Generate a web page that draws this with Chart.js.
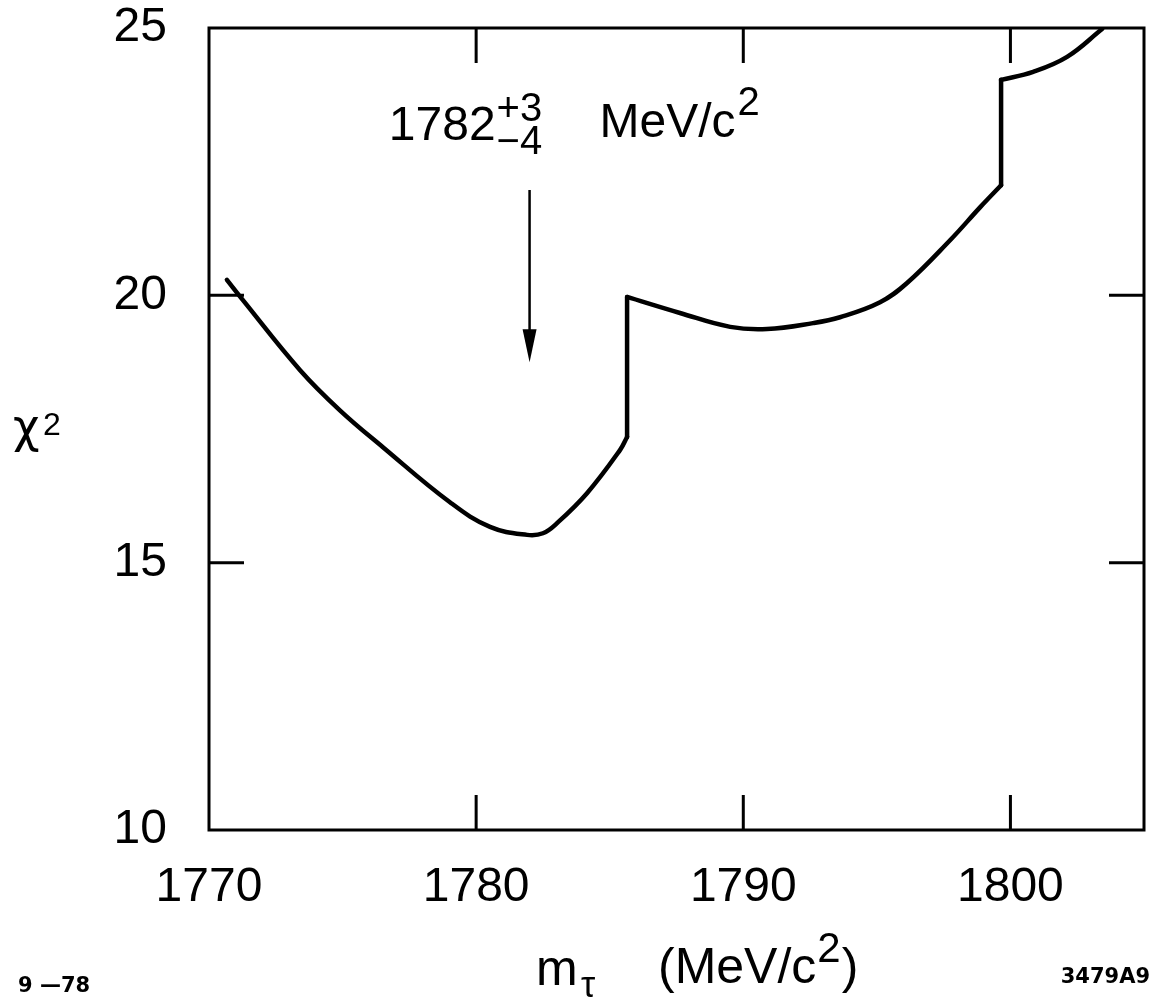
<!DOCTYPE html>
<html>
<head>
<meta charset="utf-8">
<title>chi-squared vs tau mass</title>
<script src="https://cdn.jsdelivr.net/npm/chart.js@4.4.1/dist/chart.umd.min.js"></script>
<style>
  body { margin: 0; background: #fff; }
  canvas { display: block; }
</style>
</head>
<body>
<canvas id="chiChart" width="1155" height="1008"></canvas>
<script>
// chi^2 of the fit against the assumed tau mass (MeV/c^2)
const massValues = [1770.67, 1771.27, 1773.41, 1774.90, 1776.51, 1779.02, 1780.52,
    1781.91, 1782.50, 1783.03, 1784.15, 1785.39, 1785.65, 1785.65, 1787.63, 1789.51, 1790.89,
    1792.61, 1793.62, 1795.12, 1796.13, 1797.74, 1798.87, 1799.65, 1799.65, 1800.85, 1802.12, 1803.43];
const chiValues = [20.29, 19.91, 18.60, 17.85, 17.16, 16.13, 15.67,
    15.52, 15.55, 15.74, 16.30, 17.11, 17.35, 19.97, 19.67, 19.41, 19.37,
    19.48, 19.59, 19.87, 20.23, 21.03, 21.65, 22.06, 24.03, 24.18, 24.46, 24.98];

const xTicks = [1770, 1780, 1790, 1800];
const yTicks = [10, 15, 20, 25];

// best fit mass and the arrow pointing at it
const bestMass = 1782;
const arrowFrom = 21.97;
const arrowTo = 18.75;

const FONT = "'Liberation Sans', Arial, sans-serif";
const TICK = 35;

// split the curve where it jumps (same mass twice): smooth pieces, straight jumps
const points = massValues.map((m, i) => ({ x: m, y: chiValues[i] }));
const pieces = [];
let start = 0;
for (let i = 0; i < points.length - 1; i++) {
    if (massValues[i] === massValues[i + 1]) {
        pieces.push({ pts: points.slice(start, i + 1), tension: 0.4 });
        pieces.push({ pts: points.slice(i, i + 2), tension: 0 });
        start = i + 1;
    }
}
pieces.push({ pts: points.slice(start), tension: 0.4 });

const datasets = pieces.map(p => ({
    data: p.pts,
    borderColor: '#000',
    borderWidth: 4.5,
    borderJoinStyle: 'round',
    borderCapStyle: 'round',
    pointRadius: 0,
    tension: p.tension,
    fill: false
}));

function text(ctx, str, x, y, size, align, weight, family) {
    ctx.font = (weight || '') + ' ' + size + 'px ' + (family || FONT);
    ctx.textAlign = align || 'left';
    ctx.textBaseline = 'alphabetic';
    ctx.fillText(str, x, y);
    return ctx.measureText(str).width;
}

const framePlugin = {
    id: 'frameAndNotes',
    afterDraw(chart) {
        const ctx = chart.ctx;
        const a = chart.chartArea;
        const xs = chart.scales.x;
        const ys = chart.scales.y;
        ctx.save();
        ctx.strokeStyle = '#000';
        ctx.fillStyle = '#000';
        ctx.lineWidth = 3;
        ctx.strokeRect(a.left, a.top, a.right - a.left, a.bottom - a.top);

        // inward tick marks on all four sides
        ctx.beginPath();
        xTicks.forEach(v => {
            if (v <= xs.min || v >= xs.max) return;
            const px = xs.getPixelForValue(v);
            ctx.moveTo(px, a.bottom); ctx.lineTo(px, a.bottom - TICK);
            ctx.moveTo(px, a.top); ctx.lineTo(px, a.top + TICK);
        });
        yTicks.forEach(v => {
            if (v <= ys.min || v >= ys.max) return;
            const py = ys.getPixelForValue(v);
            ctx.moveTo(a.left, py); ctx.lineTo(a.left + TICK, py);
            ctx.moveTo(a.right, py); ctx.lineTo(a.right - TICK, py);
        });
        ctx.stroke();

        // arrow at the best fit mass
        const ax = xs.getPixelForValue(bestMass);
        const y0 = ys.getPixelForValue(arrowFrom);
        const y1 = ys.getPixelForValue(arrowTo);
        ctx.lineWidth = 2.5;
        ctx.beginPath();
        ctx.moveTo(ax, y0); ctx.lineTo(ax, y1 - 20);
        ctx.stroke();
        ctx.beginPath();
        ctx.moveTo(ax, y1);
        ctx.lineTo(ax - 7, y1 - 33);
        ctx.lineTo(ax + 7, y1 - 33);
        ctx.closePath();
        ctx.fill();

        // fitted value
        text(ctx, '1782', ax - 34, 140, 48, 'right');
        text(ctx, '+3', ax - 33, 121, 40);
        text(ctx, '\u22124', ax - 33, 154, 40);
        const w = text(ctx, 'MeV/c', ax + 70, 137, 48);
        text(ctx, '2', ax + 72 + w, 115, 40);

        // axis titles
        text(ctx, '\u03c7', 13, 442, 46, 'left', '', "'DejaVu Sans', sans-serif");
        text(ctx, '2', 43, 435, 32);
        text(ctx, 'm', 536, 985, 50);
        text(ctx, '\u03c4', 581, 997, 36);
        let x = 658;
        x += text(ctx, '(MeV/c', x, 983, 50);
        x += text(ctx, '2', x + 1, 962, 42) + 2;
        text(ctx, ')', x, 983, 50);

        // plate labels
        text(ctx, '9 \u201478', 18, 992, 21, 'left', 'bold', "'DejaVu Sans', sans-serif");
        text(ctx, '3479A9', 1150, 983, 21, 'right', 'bold', "'DejaVu Sans', sans-serif");
        ctx.restore();
    }
};

const ctx = document.getElementById('chiChart').getContext('2d');

new Chart(ctx, {
    type: 'line',
    data: { datasets: datasets },
    options: {
        responsive: false,
        animation: false,
        layout: { padding: { left: 0, top: 28, right: 11, bottom: 0 } },
        plugins: { legend: { display: false }, tooltip: { enabled: false } },
        scales: {
            x: {
                type: 'linear',
                min: 1770,
                max: 1805,
                grid: { display: false, drawTicks: false, tickLength: 0 },
                border: { display: false },
                afterBuildTicks: s => { s.ticks = xTicks.map(v => ({ value: v })); },
                afterFit: s => {
                    s.height = 178;
                    s.paddingLeft = 0;
                    s.paddingRight = 0;
                },
                ticks: {
                    color: '#000',
                    padding: 34,
                    maxRotation: 0,
                    autoSkip: false,
                    font: { family: FONT, size: 48, lineHeight: 1 },
                    callback: v => String(v)
                }
            },
            y: {
                min: 10,
                max: 25,
                grid: { display: false, drawTicks: false, tickLength: 0 },
                border: { display: false },
                afterBuildTicks: s => { s.ticks = yTicks.map(v => ({ value: v })); },
                afterFit: s => {
                    s.width = 209;
                    s.paddingTop = 0;
                    s.paddingBottom = 0;
                },
                ticks: {
                    color: '#000',
                    padding: 42,
                    autoSkip: false,
                    font: { family: FONT, size: 48, lineHeight: 1 },
                    callback: v => String(v)
                }
            }
        }
    },
    plugins: [framePlugin]
});
</script>
</body>
</html>
